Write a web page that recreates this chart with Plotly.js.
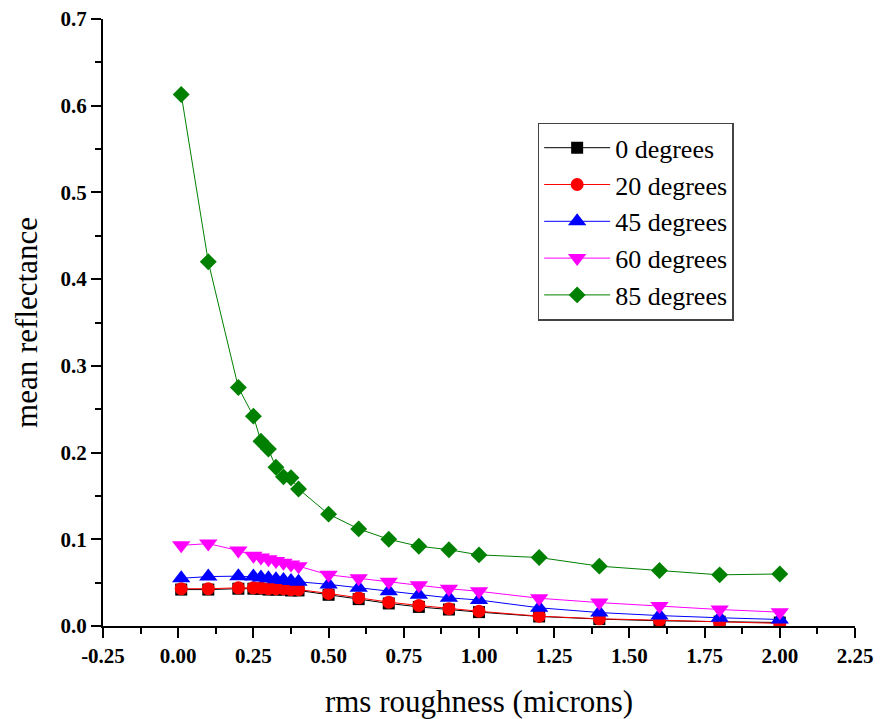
<!DOCTYPE html>
<html>
<head>
<meta charset="utf-8">
<script src="https://cdn.plot.ly/plotly-3.0.1.min.js"></script>
<style>html,body{margin:0;padding:0;background:#fff;}#chart{width:880px;height:719px;}</style>
</head>
<body>
<div id="chart"></div>
<script>
const roughness = [0.01, 0.1, 0.2, 0.25, 0.275, 0.3, 0.325, 0.35, 0.375, 0.4, 0.5, 0.6, 0.7, 0.8, 0.9, 1.0, 1.2, 1.4, 1.6, 1.8, 2.0];

const deg0  = [0.042, 0.042, 0.043, 0.043, 0.043, 0.042, 0.042, 0.042, 0.041, 0.041, 0.036, 0.031, 0.026, 0.022, 0.019, 0.016, 0.011, 0.008, 0.006, 0.005, 0.004];
const deg20 = [0.043, 0.043, 0.044, 0.044, 0.044, 0.043, 0.043, 0.043, 0.042, 0.042, 0.0375, 0.0325, 0.0275, 0.0237, 0.020, 0.017, 0.0113, 0.0083, 0.0067, 0.0045, 0.003];
const deg45 = [0.055, 0.057, 0.0575, 0.057, 0.056, 0.055, 0.054, 0.053, 0.052, 0.051, 0.048, 0.044, 0.040, 0.036, 0.0325, 0.030, 0.021, 0.0155, 0.012, 0.0095, 0.0075];
const deg60 = [0.093, 0.095, 0.087, 0.081, 0.079, 0.077, 0.075, 0.073, 0.071, 0.069, 0.059, 0.055, 0.051, 0.047, 0.043, 0.040, 0.032, 0.027, 0.023, 0.019, 0.016];
const deg85 = [0.613, 0.420, 0.275, 0.242, 0.213, 0.204, 0.183, 0.172, 0.171, 0.158, 0.129, 0.112, 0.100, 0.092, 0.088, 0.082, 0.079, 0.069, 0.064, 0.059, 0.060];

const xTickVals = [-0.25, 0, 0.25, 0.5, 0.75, 1.0, 1.25, 1.5, 1.75, 2.0, 2.25];
const xTickLabels = ["-0.25", "0.00", "0.25", "0.50", "0.75", "1.00", "1.25", "1.50", "1.75", "2.00", "2.25"];

const seriesNames = ["0 degrees", "20 degrees", "45 degrees", "60 degrees", "85 degrees"];
const seriesData = [deg0, deg20, deg45, deg60, deg85];
const colors = ["#000000", "#ff0000", "#0000ff", "#ff00ff", "#008000"];
const symbols = ["square", "circle", "triangle-up", "triangle-down", "diamond"];
const sizes = [12, 13, 16, 16, 13];

const traces = seriesNames.map((name, i) => ({
  x: roughness,
  y: seriesData[i],
  name: name,
  type: "scatter",
  mode: "lines+markers",
  line: {color: colors[i], width: 1},
  marker: {color: colors[i], symbol: symbols[i], size: sizes[i]}
}));

const serif = "'Liberation Serif', 'Times New Roman', serif";

const layout = {
  width: 880,
  height: 719,
  margin: {l: 103, r: 25, t: 19, b: 93},
  paper_bgcolor: "#ffffff",
  plot_bgcolor: "#ffffff",
  showlegend: true,
  font: {family: serif, color: "#000"},
  xaxis: {
    range: [-0.25, 2.25],
    tickmode: "array",
    tickvals: xTickVals,
    ticktext: xTickLabels,
    showgrid: false,
    zeroline: false,
    showline: true,
    linecolor: "#000",
    linewidth: 2,
    ticks: "outside",
    ticklen: 10,
    tickwidth: 2,
    tickcolor: "#000",
    tickfont: {family: serif, size: 21, color: "#000", weight: "bold"},
    minor: {tickmode: "linear", tick0: 0, dtick: 0.125, ticks: "outside", ticklen: 6, tickwidth: 2, tickcolor: "#000", showgrid: false},
    title: {text: "rms roughness (microns)", font: {family: serif, size: 31, color: "#000"}, standoff: 24}
  },
  yaxis: {
    range: [0, 0.7],
    dtick: 0.1,
    tick0: 0,
    tickformat: ".1f",
    showgrid: false,
    zeroline: false,
    showline: true,
    linecolor: "#000",
    linewidth: 2,
    ticks: "outside",
    ticklen: 10,
    tickwidth: 2,
    tickcolor: "#000",
    tickfont: {family: serif, size: 21, color: "#000", weight: "bold"},
    minor: {dtick: 0.05, ticks: "outside", ticklen: 6, tickwidth: 2, tickcolor: "#000", showgrid: false},
    title: {text: "mean reflectance", font: {family: serif, size: 31, color: "#000"}, standoff: 14}
  },
  legend: {
    x: 0.578,
    y: 0.829,
    xanchor: "left",
    yanchor: "top",
    bgcolor: "#ffffff",
    bordercolor: "#444",
    borderwidth: 1.5,
    itemwidth: 66,
    font: {family: serif, size: 26, color: "#000"},
    tracegroupgap: 0
  }
};

Plotly.newPlot("chart", traces, layout, {displayModeBar: false, staticPlot: true});
</script>
</body>
</html>
